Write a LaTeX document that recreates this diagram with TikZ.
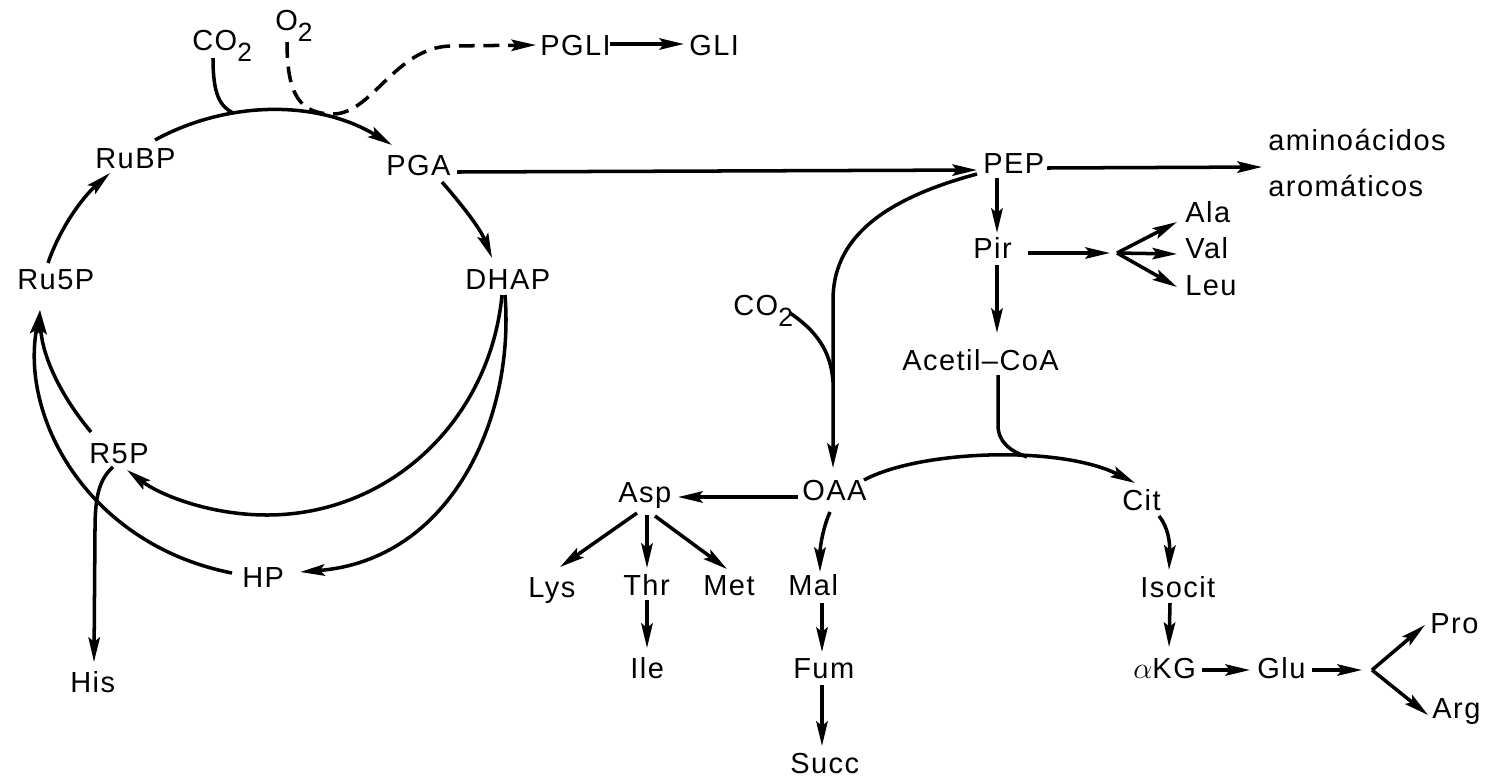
\documentclass[tikz,border=0pt]{standalone}
\usepackage{fontspec}
\setmainfont{Liberation Sans}[LetterSpace=5]
\usetikzlibrary{arrows.meta,calc}
\newcommand{\mysub}[1]{\raisebox{-6.5pt}{\fontsize{15pt}{15pt}\selectfont #1}}
\begin{document}
\begin{tikzpicture}[x=0.02cm,y=-0.02cm,
  lbl/.style={anchor=base west,inner sep=0pt,font=\fontsize{16.5pt}{19pt}\selectfont},
  flow/.style={line width=2pt,-{Stealth[length=14pt,width=6.5pt,inset=2.5pt]}},
  plain/.style={line width=2pt},
  dashflow/.style={flow,dash pattern=on 9pt off 5pt}]
\fill[white] (0,0) rectangle (1498,779);
\useasboundingbox (0,0) rectangle (1498,779);

% labels
\node[lbl] (CO2a) at (192,50) {CO\mysub{2}};
\node[lbl] (O2) at (275,30) {O\mysub{2}};
\node[lbl] (PGLI) at (540,55) {PGLI};
\node[lbl] (GLI) at (689,55) {GLI};
\node[lbl] (RuBP) at (95,168) {RuBP};
\node[lbl] (PGA) at (386,175) {PGA};
\node[lbl] (PEP) at (983,173) {PEP};
\node[anchor=west,inner sep=0pt,align=left,font=\fontsize{16.5pt}{26pt}\selectfont] (amino) at (1268,163) {aminoácidos\\aromáticos};
\node[lbl] (DHAP) at (465,289) {DHAP};
\node[lbl] (Ru5P) at (17,289) {Ru5P};
\node[lbl] (Pir) at (973,258) {Pir};
\node[lbl] (Ala) at (1185,222) {Ala};
\node[lbl] (Val) at (1185,258) {Val};
\node[lbl] (Leu) at (1185,295) {Leu};
\node[lbl] (CO2b) at (733,315) {CO\mysub{2}};
\node[lbl] (Acetil) at (902,370) {Acetil\textendash CoA};
\node[lbl] (R5P) at (89,463) {R5P};
\node[lbl] (Asp) at (618,502) {Asp};
\node[lbl] (OAA) at (802,500) {OAA};
\node[lbl] (Cit) at (1122,510) {Cit};
\node[lbl] (HP) at (242,587) {HP};
\node[lbl] (Lys) at (528,597) {Lys};
\node[lbl] (Thr) at (623,595) {Thr};
\node[lbl] (Met) at (703,595) {Met};
\node[lbl] (Mal) at (788,595) {Mal};
\node[lbl] (Isocit) at (1140,597) {Isocit};
\node[lbl] (His) at (70,692) {His};
\node[lbl] (Ile) at (630,678) {Ile};
\node[lbl] (Fum) at (793,678) {Fum};
\node[lbl] (aKG) at (1133,678) {$\alpha$KG};
\node[lbl] (Glu) at (1257,678) {Glu};
\node[lbl] (Pro) at (1430,633) {Pro};
\node[lbl] (Arg) at (1432,718) {Arg};
\node[lbl] (Succ) at (790,773) {Succ};

% junction points
\coordinate (jA) at (233,113);
\coordinate (jB) at (833,382);
\coordinate (jC) at (1027,457);
\coordinate (br1) at (1117,253);
\coordinate (br2) at (1372,670);

% Calvin cycle
\draw[plain] ($(CO2a.base west)+(21,8)$) .. controls (213,95) and (220,106) .. (jA);
\draw[flow] ($(RuBP.base west)+(60,-28)$) .. controls (228,100) and (318,100) .. ($(PGA.base west)+(6,-30)$);
\draw[dashflow] ($(O2.base west)+(12,12)$) .. controls (287,95) and (300,114) .. (333,114) .. controls (372,114) and (395,48) .. (450,46) -- ($(PGLI.base west)+(-4,-10)$);
\draw[flow] ($(PGLI.base west)+(70,-11)$) -- ($(GLI.base west)+(-5,-11)$);
\draw[flow] ($(PGA.base west)+(56,7)$) .. controls (462,205) and (480,228) .. ($(DHAP.base west)+(27,-31)$);
\draw[flow] ($(Ru5P.base west)+(31,-26)$) .. controls (60,228) and (82,198) .. ($(RuBP.base west)+(15,5)$);
\draw[flow] ($(DHAP.base west)+(37,6)$) .. controls (490,420) and (390,515) .. (267,515) .. controls (210,515) and (160,495) .. ($(R5P.base west)+(38,7)$);
\draw[flow] ($(DHAP.base west)+(40,6)$) .. controls (515,420) and (450,560) .. ($(HP.base west)+(58,-15)$);
\draw[flow] ($(HP.base west)+(-10,-14)$) .. controls (90,545) and (20,420) .. ($(Ru5P.base west)+(23,21)$);
\draw[flow] ($(R5P.base west)+(2,-31)$) .. controls (60,395) and (42,355) .. ($(Ru5P.base west)+(23,21)$);
\draw[flow] ($(R5P.base west)+(24,4)$) .. controls (98,480) and (95,500) .. (95,530) -- ($(His.base west)+(24,-30)$);

% PEP branch
\draw[flow] ($(PGA.base west)+(71,-3)$) -- ($(PEP.base west)+(-6,-3)$);
\draw[flow] ($(PEP.base west)+(64,-5)$) -- ($(amino.west)+(-6,4)$);
\draw[flow] ($(PEP.base west)+(-6,1)$) .. controls (880,200) and (833,240) .. (833,300) -- ($(OAA.base west)+(31,-32)$);
\draw[plain] ($(CO2b.base west)+(57,-2)$) .. controls (815,330) and (831,350) .. (jB);
\draw[flow] ($(PEP.base west)+(14,5)$) -- ($(Pir.base west)+(24,-25)$);
\draw[flow] ($(Pir.base west)+(24,7)$) -- ($(Acetil.base west)+(95,-37)$);
\draw[flow] ($(Pir.base west)+(55,-5)$) -- ($(br1)+(-7,0)$);
\draw[flow] (br1) -- ($(Ala.base west)+(-8,0)$);
\draw[flow] (br1) -- ($(Val.base west)+(-8,-4)$);
\draw[flow] (br1) -- ($(Leu.base west)+(-8,-8)$);

% Krebs part
\draw[plain] ($(Acetil.base west)+(96,5)$) -- (998,425) .. controls (998,442) and (1010,451) .. (jC);
\draw[flow] ($(OAA.base west)+(62,-20)$) .. controls (920,450) and (1060,445) .. ($(Cit.base west)+(13,-27)$);
\draw[flow] ($(OAA.base west)+(-4,-3)$) -- ($(Asp.base west)+(60,-5)$);
\draw[flow] ($(Asp.base west)+(19,11)$) -- ($(Lys.base west)+(32,-30)$);
\draw[flow] ($(Asp.base west)+(29,13)$) -- ($(Thr.base west)+(24,-27)$);
\draw[flow] ($(Asp.base west)+(37,14)$) -- ($(Met.base west)+(24,-26)$);
\draw[flow] ($(Thr.base west)+(24,5)$) -- ($(Ile.base west)+(17,-30)$);
\draw[flow] ($(OAA.base west)+(28,12)$) .. controls (824,525) and (820,545) .. ($(Mal.base west)+(32,-23)$);
\draw[flow] ($(Mal.base west)+(34,8)$) -- ($(Fum.base west)+(29,-26)$);
\draw[flow] ($(Fum.base west)+(29,7)$) -- ($(Succ.base west)+(32,-27)$);
\draw[flow] ($(Cit.base west)+(37,6)$) .. controls (1168,527) and (1170,542) .. ($(Isocit.base west)+(29,-27)$);
\draw[flow] ($(Isocit.base west)+(30,6)$) -- ($(aKG.base west)+(36,-31)$);
\draw[flow] ($(aKG.base west)+(69,-8)$) -- ($(Glu.base west)+(-7,-8)$);
\draw[flow] ($(Glu.base west)+(55,-8)$) -- ($(br2)+(-10,0)$);
\draw[flow] (br2) -- ($(Pro.base west)+(-5,-8)$);
\draw[flow] (br2) -- ($(Arg.base west)+(-4,-3)$);
\end{tikzpicture}
\end{document}
